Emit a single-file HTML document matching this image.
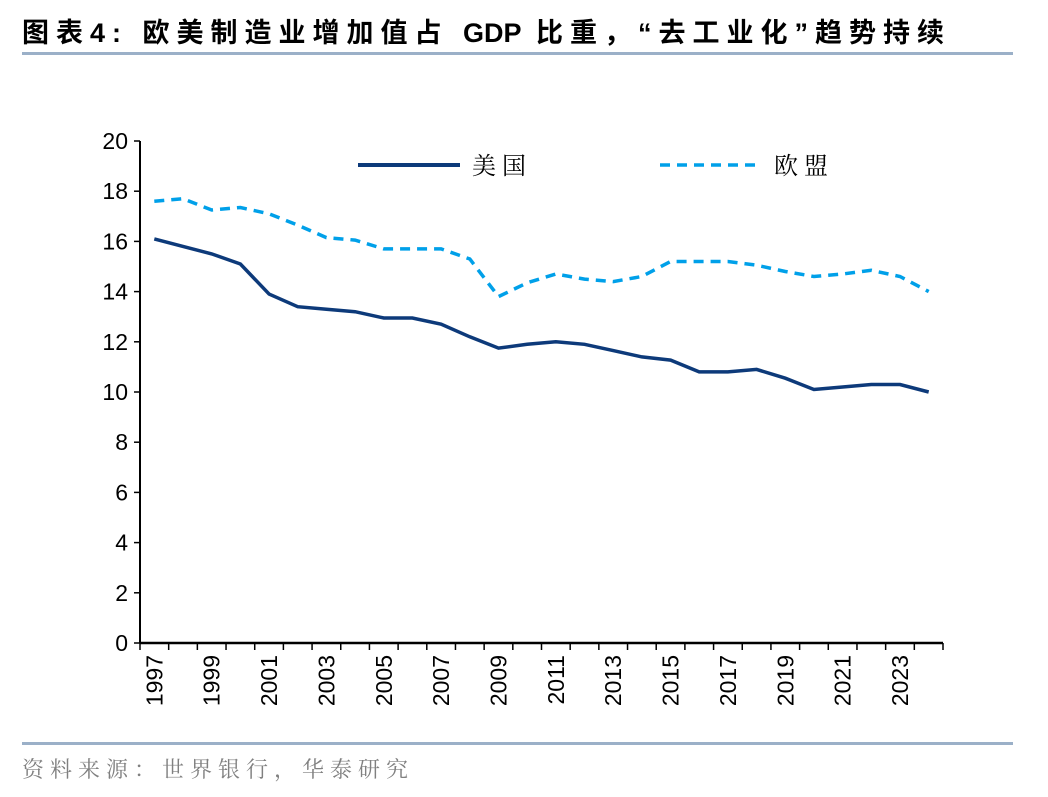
<!DOCTYPE html>
<html><head><meta charset="utf-8"><style>
body{margin:0;background:#fff;width:1048px;height:792px;overflow:hidden;}
svg text{font-family:"Liberation Sans","Noto Sans CJK SC",sans-serif;}
svg text.serif{font-family:"Liberation Serif","Noto Serif CJK SC",serif;}
</style></head><body>
<svg width="1048" height="792" xmlns="http://www.w3.org/2000/svg">
<text x="22" y="42" font-size="27" font-weight="bold" fill="#000" letter-spacing="7">图表4: 欧美制造业增加值占 <tspan letter-spacing="0">GDP</tspan> 比重，“去工业化”趋势持续</text>
<rect x="22" y="52" width="991" height="3" fill="#9bb0c8"/>
<rect x="22" y="742" width="991" height="3" fill="#9bb0c8"/>
<text class="serif" x="22" y="777" font-size="22" fill="#808080" letter-spacing="6">资料来源：世界银行，华泰研究</text>
<g id="axes"></g>
<g id="lines"></g>
<g>
<line x1="358" y1="165" x2="460" y2="165" stroke="#0d3a7a" stroke-width="4"/>
<text class="serif" x="472" y="174" font-size="24" letter-spacing="6">美国</text>
<line x1="660" y1="165" x2="762" y2="165" stroke="#00a0e9" stroke-width="3.5" stroke-dasharray="10,7"/>
<text class="serif" x="774" y="174" font-size="24" letter-spacing="6">欧盟</text>
</g>
</svg>
<script>
const years=[1997,1998,1999,2000,2001,2002,2003,2004,2005,2006,2007,2008,2009,2010,2011,2012,2013,2014,2015,2016,2017,2018,2019,2020,2021,2022,2023,2024];
const usValues=[16.1,15.8,15.5,15.1,13.9,13.4,13.3,13.2,12.95,12.95,12.7,12.2,11.75,11.9,12.0,11.9,11.65,11.4,11.27,10.8,10.8,10.9,10.55,10.1,10.2,10.3,10.3,10.0];
const euValues=[17.6,17.7,17.25,17.35,17.1,16.65,16.15,16.05,15.7,15.7,15.7,15.3,13.8,14.35,14.7,14.5,14.4,14.6,15.2,15.2,15.2,15.05,14.8,14.6,14.7,14.85,14.6,14.0];
const yTicks=[0,2,4,6,8,10,12,14,16,18,20];
const NS="http://www.w3.org/2000/svg";
const X0=140,X1=943,Y0=643,Y1=141;
const bw=(X1-X0)/years.length;
const xs=i=>X0+bw*(i+0.5);
const ys=v=>Y0-(v/20)*(Y0-Y1);
function mk(tag,attrs,parent){const e=document.createElementNS(NS,tag);for(const k in attrs)e.setAttribute(k,attrs[k]);parent.appendChild(e);return e;}
const ax=document.getElementById('axes');
let e=mk('line',{x1:X0,y1:Y1,x2:X0,y2:Y0,stroke:'#000','stroke-width':2},ax);


e=mk('line',{x1:X0,y1:Y0,x2:X1,y2:Y0,stroke:'#000','stroke-width':2.5},ax);


yTicks.forEach(v=>{
 const t=mk('line',{x1:X0-6,y1:ys(v),x2:X0,y2:ys(v),stroke:'#000','stroke-width':1.5},ax);
 
 
 const l=mk('text',{x:X0-12,y:ys(v)+8,'font-size':23,'text-anchor':'end'},ax);
 l.textContent=v;
 
 
});
for(let i=0;i<=years.length;i++){
 const x=X0+bw*i;
 const t=mk('line',{x1:x,y1:Y0,x2:x,y2:Y0+7,stroke:'#000','stroke-width':1.5},ax);
 
 
}
years.forEach((y,i)=>{
 if(i%2)return;
 const x=xs(i)+8,yy=Y0+12;
 const l=mk('text',{x:x,y:yy,'font-size':23,'text-anchor':'end',transform:`rotate(-90 ${x} ${yy})`},ax);
 l.textContent=y;
 
 
});
const lg=document.getElementById('lines');
const pts=a=>a.map((v,i)=>xs(i).toFixed(1)+','+ys(v).toFixed(1)).join(' ');
e=mk('polyline',{points:pts(euValues),fill:'none',stroke:'#00a0e9','stroke-width':3.5,'stroke-dasharray':'10,7'},lg);


e=mk('polyline',{points:pts(usValues),fill:'none',stroke:'#0d3a7a','stroke-width':3.5},lg);


</script>
</body></html>
